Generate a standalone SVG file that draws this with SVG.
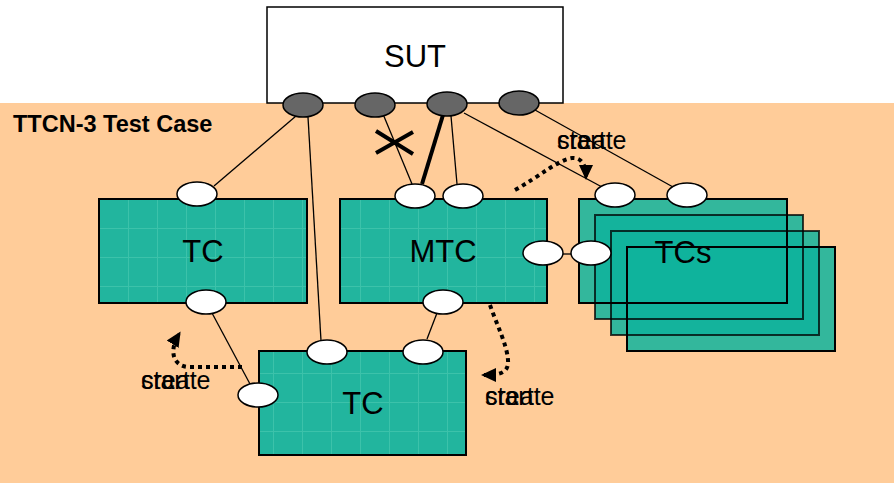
<svg xmlns="http://www.w3.org/2000/svg" width="894" height="483" viewBox="0 0 894 483">
<style>
.box{fill:url(#grid);stroke:#000;stroke-width:2}
.stk{fill:#0fb39c;fill-opacity:0.85;stroke:none}
.stko{fill:none;stroke:#000;stroke-width:2}
.port{fill:#fff;stroke:#000;stroke-width:1.5}
.sport{fill:#666;stroke:#000;stroke-width:1.5}
.ln{stroke:#000;stroke-width:1.3;fill:none}
.dot{stroke:#000;stroke-width:4;stroke-dasharray:4 4;fill:none}
.big{font-family:"Liberation Sans",Arial,sans-serif;font-size:31px;text-anchor:middle;fill:#000}
.lbl{font-family:"Liberation Sans",Arial,sans-serif;font-size:25px;fill:#000}
</style>
<defs>
<pattern id="grid" width="29" height="29" patternUnits="userSpaceOnUse" x="99" y="199">
<rect width="29" height="29" fill="#22b59e"/>
<path d="M0,0.5H29M0.5,0V29" stroke="#3cc2aa" stroke-width="1"/>
</pattern>
<marker id="ah" markerWidth="16" markerHeight="16" refX="12" refY="8" orient="auto" markerUnits="userSpaceOnUse">
<path d="M0,1L15,8L0,15Z" fill="#000"/>
</marker>
</defs>
<rect x="0" y="103" width="894" height="380" fill="#ffcc99"/>
<text x="13" y="132" style="font-family:'Liberation Sans',Arial,sans-serif;font-size:23.5px;font-weight:bold">TTCN-3 Test Case</text>
<g id="sut">
<rect x="267" y="7" width="296" height="96" fill="#fff" stroke="#000" stroke-width="1.5"/>
<text class="big" x="415" y="67">SUT</text>
</g>
<g id="connectors">
<line class="ln" x1="296" y1="116" x2="214" y2="186"/>
<line class="ln" x1="308" y1="117" x2="321" y2="341"/>
<line class="ln" x1="383" y1="114" x2="412" y2="184"/>
<line x1="443" y1="115" x2="422" y2="184" stroke="#000" stroke-width="4"/>
<line class="ln" x1="451" y1="116" x2="457" y2="184"/>
<line class="ln" x1="464" y1="113" x2="602" y2="187"/>
<line class="ln" x1="535" y1="110" x2="673" y2="187"/>
<line class="ln" x1="212" y1="313" x2="250" y2="384"/>
<line class="ln" x1="437" y1="313" x2="427" y2="339"/>
<line class="ln" x1="563" y1="254" x2="571" y2="254"/>
<path d="M376,131L413,154M376,153L413,132" stroke="#000" stroke-width="4"/>
<path class="dot" d="M515,190C540,176 558,160 572,158C583,157 586,168 586,177" marker-end="url(#ah)"/>
<path class="dot" d="M242,367L190,367C172,367 169,350 179,334" marker-end="url(#ah)"/>
<path class="dot" d="M490,305C497,325 507,345 508,360C509,373 500,375 484,375" marker-end="url(#ah)"/>
</g>
<g id="tc1">
<rect class="box" x="99" y="199" width="208" height="104"/>
<text class="big" x="203" y="262">TC</text>
</g>
<g id="mtc">
<rect class="box" x="340" y="199" width="207" height="104"/>
<text class="big" x="443" y="262">MTC</text>
</g>
<g id="tc2">
<rect class="box" x="259" y="351" width="207" height="104"/>
<text class="big" x="363" y="414">TC</text>
</g>
<g id="tcs">
<rect class="stk" x="627" y="247" width="208" height="104"/>
<rect class="stk" x="611" y="231" width="208" height="104"/>
<rect class="stk" x="595" y="215" width="208" height="104"/>
<rect class="stk" x="579" y="199" width="208" height="104"/>
<rect class="stko" x="627" y="247" width="208" height="104"/>
<rect class="stko" x="611" y="231" width="208" height="104" stroke-opacity="0.75"/>
<rect class="stko" x="595" y="215" width="208" height="104" stroke-opacity="0.75"/>
<rect class="stko" x="579" y="199" width="208" height="104"/>
<text class="big" x="683" y="263">TCs</text>
</g>
<g id="ports">
<ellipse class="sport" cx="303" cy="105" rx="20" ry="12"/>
<ellipse class="sport" cx="375" cy="105" rx="20" ry="12"/>
<ellipse class="sport" cx="447" cy="104" rx="20" ry="12"/>
<ellipse class="sport" cx="519" cy="103" rx="20" ry="12"/>
<ellipse class="port" cx="197" cy="194" rx="20" ry="12"/>
<ellipse class="port" cx="206" cy="302" rx="20" ry="12"/>
<ellipse class="port" cx="415" cy="196" rx="20" ry="12"/>
<ellipse class="port" cx="463" cy="196" rx="20" ry="12"/>
<ellipse class="port" cx="443" cy="302" rx="20" ry="12"/>
<ellipse class="port" cx="543" cy="253" rx="20" ry="12"/>
<ellipse class="port" cx="327" cy="352" rx="20" ry="12"/>
<ellipse class="port" cx="423" cy="352" rx="20" ry="12"/>
<ellipse class="port" cx="258" cy="395" rx="20" ry="12"/>
<ellipse class="port" cx="615" cy="195" rx="20" ry="12"/>
<ellipse class="port" cx="687" cy="195" rx="20" ry="12"/>
<ellipse class="port" cx="591" cy="253" rx="20" ry="12"/>
</g>
<g id="labels">
<text class="lbl" x="557" y="149">start</text>
<text class="lbl" x="557" y="149">create</text>
<text class="lbl" x="141" y="389">start</text>
<text class="lbl" x="141" y="389">create</text>
<text class="lbl" x="485" y="405">start</text>
<text class="lbl" x="485" y="405">create</text>
</g>
</svg>
